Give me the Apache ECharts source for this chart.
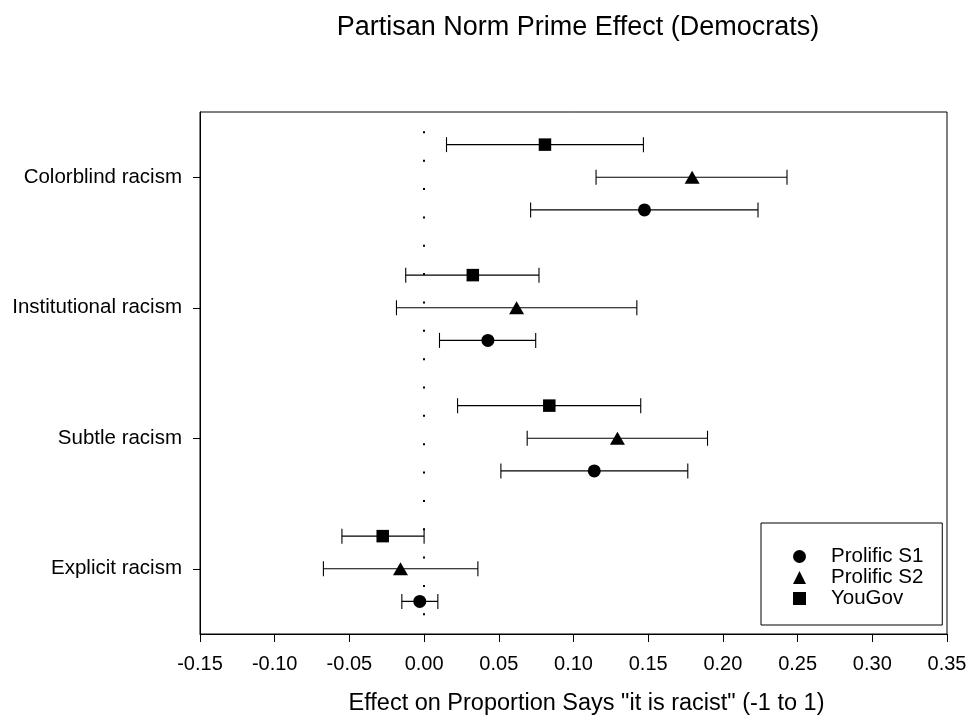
<!DOCTYPE html>
<html>
<head>
<meta charset="utf-8">
<script src="https://cdn.jsdelivr.net/npm/echarts@6/dist/echarts.min.js"></script>
<style>
  html, body { margin: 0; padding: 0; background: #fff; }
  #main { width: 972px; height: 724px; }
</style>
</head>
<body>
<div id="main"></div>
<script>
// categories, top to bottom as drawn
var categories = ['Colorblind racism', 'Institutional racism', 'Subtle racism', 'Explicit racism']
var xTicks = [-0.15, 0.35, 0.05] // min, max, step

// Prolific S1
var s1Est = [0.1475, 0.0427, 0.1139, -0.0029]
var s1Lo = [0.0713, 0.0103, 0.0514, -0.0149]
var s1Hi = [0.2235, 0.0747, 0.1765, 0.0092]
// Prolific S2
var s2Est = [0.1794, 0.0619, 0.1294, -0.0158]
var s2Lo = [0.1151, -0.0185, 0.0690, -0.0674]
var s2Hi = [0.2429, 0.1424, 0.1897, 0.0360]
// YouGov
var ygEst = [0.0809, 0.0326, 0.0838, -0.0277]
var ygLo = [0.0150, -0.0123, 0.0224, -0.0550]
var ygHi = [0.1468, 0.0769, 0.1450, 0.0000]

var FONT = 'Liberation Sans'
var chart = echarts.init(document.getElementById('main'), null, { renderer: 'canvas' })

// row of category i on the y scale (bottom = 1)
function rowPos(i) { return categories.length - i }

function points(est, shift) {
    return est.map(function(v, i) { return [v, rowPos(i) + shift] })
}
function bars(lo, hi, shift) {
    return lo.map(function(v, i) { return [v, hi[i], rowPos(i) + shift] })
}

var renderBar = function(params, api) {
    var y = api.value(2)
    var a = api.coord([api.value(0), y])
    var b = api.coord([api.value(1), y])
    var h = 7.5
    var st = { stroke: '#000', lineWidth: 1.1 }
    return {
        type: 'group',
        children: [
            { type: 'line', shape: { x1: a[0], y1: a[1], x2: b[0], y2: b[1] }, style: st },
            { type: 'line', shape: { x1: a[0], y1: a[1] - h, x2: a[0], y2: a[1] + h }, style: st },
            { type: 'line', shape: { x1: b[0], y1: b[1] - h, x2: b[0], y2: b[1] + h }, style: st }
        ]
    }
}

function barSeries(lo, hi, shift) {
    return {
        type: 'custom',
        renderItem: renderBar,
        data: bars(lo, hi, shift),
        encode: { x: [0, 1], y: 2 },
        silent: true,
        z: 2
    }
}

var yMin = 0.5, yMax = 4.5

var option = {
    backgroundColor: '#fff',
    animation: false,
    title: {
        text: 'Partisan Norm Prime Effect (Democrats)',
        left: 573,
        top: 9,
        textAlign: 'center',
        textStyle: { fontFamily: FONT, fontSize: 27, fontWeight: 'normal', color: '#000' }
    },
    grid: {
        left: 200, top: 112, right: 25, bottom: 90,
        show: true, borderColor: '#000', borderWidth: 1
    },
    legend: {
        orient: 'vertical',
        left: 761,
        top: 523,
        padding: [23, 19, 16, 32],
        itemGap: 0,
        itemWidth: 13,
        itemHeight: 13,
        borderColor: '#000',
        borderWidth: 1,
        backgroundColor: '#fff',
        textStyle: { fontFamily: FONT, fontSize: 20.5, color: '#000', padding: [0, 0, 0, 20] },
        data: [
            { name: 'Prolific S1', icon: 'circle' },
            { name: 'Prolific S2', icon: 'triangle' },
            { name: 'YouGov', icon: 'rect' }
        ]
    },
    xAxis: {
        type: 'value',
        min: xTicks[0],
        max: xTicks[1],
        interval: xTicks[2],
        name: 'Effect on Proportion Says "it is racist" (-1 to 1)',
        nameLocation: 'middle',
        nameGap: 58,
        nameTextStyle: { fontFamily: FONT, fontSize: 23.5, color: '#000', padding: [0, 0, 0, 26] },
        axisLine: { onZero: false, lineStyle: { color: '#000', width: 1 } },
        axisTick: { inside: false, length: 8, lineStyle: { color: '#000' } },
        axisLabel: {
            fontFamily: FONT, fontSize: 20, color: '#000', margin: 20,
            formatter: function(v) { return v.toFixed(2) }
        },
        splitLine: { show: false }
    },
    yAxis: {
        type: 'value',
        min: yMin,
        max: yMax,
        axisLine: { onZero: false, lineStyle: { color: '#000', width: 1 } },
        axisTick: { inside: false, length: 7, customValues: [1, 2, 3, 4], lineStyle: { color: '#000' } },
        axisLabel: {
            fontFamily: FONT, fontSize: 20.5, color: '#000', margin: 18,
            customValues: [1, 2, 3, 4],
            formatter: function(v) { return categories[categories.length - Math.round(v)] || '' }
        },
        splitLine: { show: false }
    },
    series: [
        {
            type: 'line',
            data: [],
            silent: true,
            markLine: {
                symbol: 'none',
                silent: true,
                label: { show: false },
                lineStyle: { color: '#000', width: 2, type: [2, 26.35], dashOffset: 9.65 },
                data: [[{ coord: [0, yMin] }, { coord: [0, yMax] }]]
            }
        },
        barSeries(s1Lo, s1Hi, -0.25),
        barSeries(s2Lo, s2Hi, 0),
        barSeries(ygLo, ygHi, 0.25),
        {
            name: 'Prolific S1', type: 'scatter', symbol: 'circle', symbolSize: 13,
            itemStyle: { color: '#000', opacity: 1 }, data: points(s1Est, -0.25), z: 5
        },
        {
            name: 'Prolific S2', type: 'scatter', symbol: 'triangle', symbolSize: [15, 13],
            itemStyle: { color: '#000', opacity: 1 }, data: points(s2Est, 0), z: 5
        },
        {
            name: 'YouGov', type: 'scatter', symbol: 'rect', symbolSize: 12.5,
            itemStyle: { color: '#000', opacity: 1 }, data: points(ygEst, 0.25), z: 5
        }
    ]
}
chart.setOption(option)
</script>
</body>
</html>
